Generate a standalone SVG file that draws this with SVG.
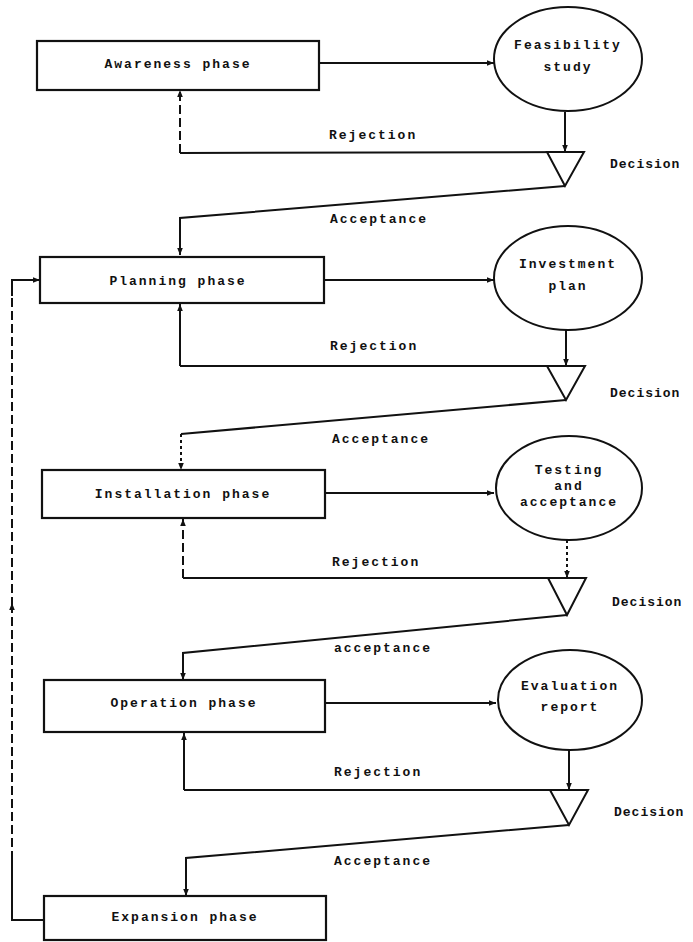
<svg xmlns="http://www.w3.org/2000/svg" width="693" height="942" viewBox="0 0 693 942">
<defs>
<marker id="ah" viewBox="0 0 10 10" refX="10" refY="5" markerWidth="7" markerHeight="7" markerUnits="userSpaceOnUse" orient="auto">
<path d="M0,1 L10,5 L0,9 Z" fill="#111"/>
</marker>
<style>
.box{fill:#fff;stroke:#111;stroke-width:2.2}
.circ{fill:#fff;stroke:#111;stroke-width:2}
.tri{fill:#fff;stroke:#111;stroke-width:2}
.ln{fill:none;stroke:#111;stroke-width:2}
.dash{stroke-dasharray:9 4}
.dot{stroke-dasharray:3 3}
.t{font-family:"Liberation Mono","DejaVu Sans Mono",monospace;font-size:13px;font-weight:bold;fill:#111;letter-spacing:2px}
.d{letter-spacing:1px}
.c{text-anchor:middle}
</style>
</defs>
<rect width="693" height="942" fill="#fff"/>

<g id="connectors">
<!-- row 1 -->
<line class="ln" x1="320" y1="63" x2="494" y2="63" marker-end="url(#ah)"/>
<line class="ln" x1="565" y1="112" x2="565" y2="152" marker-end="url(#ah)"/>
<line class="ln" x1="584" y1="152" x2="180" y2="153"/>
<line class="ln dash" x1="180" y1="153" x2="180" y2="90" marker-end="url(#ah)"/>
<polyline class="ln" points="565,186 180,218 180,255" marker-end="url(#ah)"/>
<!-- row 2 -->
<line class="ln" x1="322" y1="280" x2="494" y2="280" marker-end="url(#ah)"/>
<line class="ln" x1="566" y1="330" x2="566" y2="366" marker-end="url(#ah)"/>
<line class="ln" x1="585" y1="366" x2="180" y2="366"/>
<line class="ln" x1="180" y1="366" x2="180" y2="304" marker-end="url(#ah)"/>
<polyline class="ln" points="566,400 181,434"/>
<line class="ln dot" x1="181" y1="434" x2="181" y2="470" marker-end="url(#ah)"/>
<!-- row 3 -->
<line class="ln" x1="324" y1="493" x2="494" y2="493" marker-end="url(#ah)"/>
<line class="ln dot" x1="567" y1="540" x2="567" y2="578" marker-end="url(#ah)"/>
<line class="ln" x1="586" y1="578" x2="183" y2="578"/>
<line class="ln dash" x1="183" y1="578" x2="183" y2="519" marker-end="url(#ah)"/>
<polyline class="ln" points="567,615 183,653 183,680" marker-end="url(#ah)"/>
<!-- row 4 -->
<line class="ln" x1="325" y1="703" x2="496" y2="703" marker-end="url(#ah)"/>
<line class="ln" x1="569" y1="750" x2="569" y2="790" marker-end="url(#ah)"/>
<line class="ln" x1="588" y1="790" x2="184" y2="790"/>
<line class="ln" x1="184" y1="790" x2="184" y2="733" marker-end="url(#ah)"/>
<polyline class="ln" points="569,825 186,858 186,896" marker-end="url(#ah)"/>
<!-- feedback loop -->
<polyline class="ln" points="44,920 12,920 12,860"/>
<line class="ln dash" x1="12" y1="860" x2="12" y2="603" marker-end="url(#ah)"/>
<line class="ln dash" x1="12" y1="606" x2="12" y2="294"/>
<polyline class="ln" points="12,296 12,280 40,280" marker-end="url(#ah)"/>
</g>

<g id="awareness"><rect class="box" x="37" y="41" width="282" height="49"/><text class="t c" x="178" y="68">Awareness phase</text></g>
<g id="feasibility"><ellipse class="circ" cx="568" cy="59" rx="74" ry="52"/><text class="t c" x="568" y="49">Feasibility</text><text class="t c" x="568" y="71">study</text></g>
<g id="decision1"><polygon class="tri" points="547,152 584,152 565,186"/><text class="t d" x="610" y="168">Decision</text></g>
<text class="t" x="329" y="139">Rejection</text>
<text class="t" x="330" y="223">Acceptance</text>

<g id="planning"><rect class="box" x="40" y="257" width="284" height="46"/><text class="t c" x="178" y="285">Planning phase</text></g>
<g id="investment"><ellipse class="circ" cx="568" cy="278" rx="74" ry="52"/><text class="t c" x="568" y="268">Investment</text><text class="t c" x="568" y="290">plan</text></g>
<g id="decision2"><polygon class="tri" points="547,366 585,366 566,400"/><text class="t d" x="610" y="397">Decision</text></g>
<text class="t" x="330" y="350">Rejection</text>
<text class="t" x="332" y="443">Acceptance</text>

<g id="installation"><rect class="box" x="42" y="470" width="283" height="48"/><text class="t c" x="183" y="498">Installation phase</text></g>
<g id="testing"><ellipse class="circ" cx="569" cy="488" rx="73" ry="52"/><text class="t c" x="569" y="474">Testing</text><text class="t c" x="569" y="490">and</text><text class="t c" x="569" y="506">acceptance</text></g>
<g id="decision3"><polygon class="tri" points="548,578 586,578 567,615"/><text class="t d" x="612" y="606">Decision</text></g>
<text class="t" x="332" y="566">Rejection</text>
<text class="t" x="334" y="652">acceptance</text>

<g id="operation"><rect class="box" x="44" y="680" width="281" height="52"/><text class="t c" x="184" y="707">Operation phase</text></g>
<g id="evaluation"><ellipse class="circ" cx="570" cy="700" rx="72" ry="50"/><text class="t c" x="570" y="690">Evaluation</text><text class="t c" x="570" y="711">report</text></g>
<g id="decision4"><polygon class="tri" points="550,790 588,790 569,825"/><text class="t d" x="614" y="816">Decision</text></g>
<text class="t" x="334" y="776">Rejection</text>
<text class="t" x="334" y="865">Acceptance</text>

<g id="expansion"><rect class="box" x="44" y="896" width="282" height="44"/><text class="t c" x="185" y="921">Expansion phase</text></g>
</svg>
